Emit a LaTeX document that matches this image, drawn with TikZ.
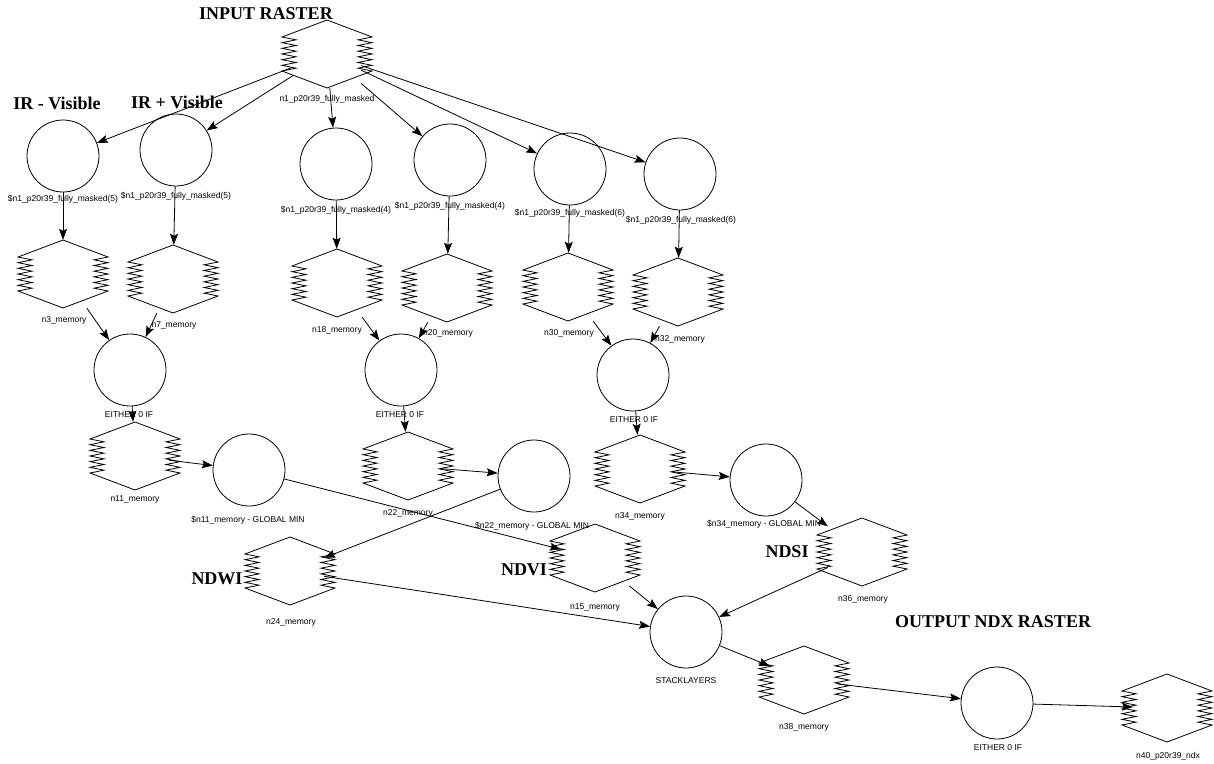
\documentclass[tikz,border=0pt]{standalone}
\usepackage{fontspec}
\setmainfont{Liberation Serif}
\newfontfamily\lblfont{Liberation Sans}
\usetikzlibrary{arrows.meta,calc}

\tikzset{
  rasterbox/.style={draw=none, rectangle, minimum width=68pt, minimum height=68pt, inner sep=0pt},
  opcircle/.style={draw, circle, minimum size=72pt, inner sep=0pt, line width=0.8pt},
  lbl/.style={font=\lblfont\fontsize{8.5}{10}\selectfont, inner sep=0pt},
  ttl/.style={font=\bfseries\fontsize{18}{20}\selectfont, inner sep=0pt},
  conn/.style={-{Stealth[length=11pt,width=8pt,inset=2pt]}, line width=0.8pt},
  rline/.style={line width=0.8pt, line join=miter},
}

\newcommand\rasternode[2]{%
  \node[rasterbox] (#1) at (#2) {};
  \draw[rline, shift={(#2)}] (0,-34) -- (-45,-17)
     \foreach \k in {0,...,5} { -- (-31,{-17+(\k+0.5)*34/6}) -- (-45,{-17+(\k+1)*34/6}) }
     -- (0,34) -- (45,17)
     \foreach \k in {0,...,5} { -- (31,{17-(\k+0.5)*34/6}) -- (45,{17-(\k+1)*34/6}) }
     -- cycle;
}

\begin{document}
\begin{tikzpicture}[x=1pt,y=-1pt]
\fill[white] (0,0) rectangle (1214,763);
\useasboundingbox (0,0) rectangle (1214,763);

% rasters
\rasternode{rin}{327,54}
\rasternode{n3}{63,274}
\rasternode{n7}{173,279}
\rasternode{n18}{337,283}
\rasternode{n20}{447,288}
\rasternode{n30}{568,287}
\rasternode{n32}{678,292}
\rasternode{n11}{135,456}
\rasternode{n22}{408,466}
\rasternode{n34}{640,469}
\rasternode{n24}{290,571}
\rasternode{n15}{595,558}
\rasternode{n36}{862,552}
\rasternode{n38}{804,680}
\rasternode{n40}{1167,708}

% operation circles
\node[opcircle] (c1) at (63,156) {};
\node[opcircle] (c2) at (176,150) {};
\node[opcircle] (c3) at (336,164) {};
\node[opcircle] (c4) at (450,160) {};
\node[opcircle] (c5) at (570,169) {};
\node[opcircle] (c6) at (680,174) {};
\node[opcircle] (e1) at (130,370) {};
\node[opcircle] (e2) at (401,370) {};
\node[opcircle] (e3) at (633,375) {};
\node[opcircle] (g1) at (249,470) {};
\node[opcircle] (g2) at (534,476) {};
\node[opcircle] (g3) at (766,480) {};
\node[opcircle] (stack) at (686,632) {};
\node[opcircle] (e4) at (997,703) {};

% small labels
\node[lbl] (lrin) at (327,99) {n1\_p20r39\_fully\_masked};
\node[lbl] (lc1) at (63,199) {\$n1\_p20r39\_fully\_masked(5)};
\node[lbl] (lc2) at (176,196) {\$n1\_p20r39\_fully\_masked(5)};
\node[lbl] (lc3) at (336,210) {\$n1\_p20r39\_fully\_masked(4)};
\node[lbl] (lc4) at (450,206) {\$n1\_p20r39\_fully\_masked(4)};
\node[lbl] (lc5) at (570,213) {\$n1\_p20r39\_fully\_masked(6)};
\node[lbl] (lc6) at (681,220) {\$n1\_p20r39\_fully\_masked(6)};
\node[lbl] (ln3) at (64,320) {n3\_memory};
\node[lbl] (ln7) at (174,325) {n7\_memory};
\node[lbl] (ln18) at (337,330) {n18\_memory};
\node[lbl] (ln20) at (448,333) {n20\_memory};
\node[lbl] (ln30) at (569,333) {n30\_memory};
\node[lbl] (ln32) at (680,339) {n32\_memory};
\node[lbl] (le1) at (129,415) {EITHER 0 IF};
\node[lbl] (le2) at (400,415) {EITHER 0 IF};
\node[lbl] (le3) at (634,420) {EITHER 0 IF};
\node[lbl] (ln11) at (135,499) {n11\_memory};
\node[lbl] (ln22) at (408,513) {n22\_memory};
\node[lbl] (ln34) at (640,516) {n34\_memory};
\node[lbl] (lg1) at (248,520) {\$n11\_memory - GLOBAL MIN};
\node[lbl] (lg2) at (532,526) {\$n22\_memory - GLOBAL MIN};
\node[lbl] (lg3) at (764,524) {\$n34\_memory - GLOBAL MIN};
\node[lbl] (ln24) at (291,622) {n24\_memory};
\node[lbl] (ln15) at (595,607) {n15\_memory};
\node[lbl] (ln36) at (863,599) {n36\_memory};
\node[lbl] (lstack) at (686,681) {STACKLAYERS};
\node[lbl] (ln38) at (804,727) {n38\_memory};
\node[lbl] (le4) at (998,748) {EITHER 0 IF};
\node[lbl] (ln40) at (1168,756) {n40\_p20r39\_ndx};

% titles
\node[ttl] (tin) at (266,14) {INPUT RASTER};
\node[ttl] (tirm) at (57,103) {IR - Visible};
\node[ttl] (tirp) at (177,102) {IR + Visible};
\node[ttl] (tndwi) at (217,579) {NDWI};
\node[ttl] (tndvi) at (524,570) {NDVI};
\node[ttl] (tndsi) at (787,552) {NDSI};
\node[ttl] (tout) at (993,622) {OUTPUT NDX RASTER};

% connectors
\foreach \t in {c1,c2,c3,c4,c5,c6} \draw[conn] (rin) -- (\t);
\draw[conn] (c1) -- (n3);
\draw[conn] (c2) -- (n7);
\draw[conn] (c3) -- (n18);
\draw[conn] (c4) -- (n20);
\draw[conn] (c5) -- (n30);
\draw[conn] (c6) -- (n32);
\draw[conn] (n3) -- (e1);
\draw[conn] (n7) -- (e1);
\draw[conn] (n18) -- (e2);
\draw[conn] (n20) -- (e2);
\draw[conn] (n30) -- (e3);
\draw[conn] (n32) -- (e3);
\draw[conn] (e1) -- (n11);
\draw[conn] (e2) -- (n22);
\draw[conn] (e3) -- (n34);
\draw[conn] (n11) -- (g1);
\draw[conn] (n22) -- (g2);
\draw[conn] (n34) -- (g3);
\draw[conn] (g1) -- (n15);
\draw[conn] (g2) -- (n24);
\draw[conn] (g3) -- (n36);
\draw[conn] (n24) -- (stack);
\draw[conn] (n15) -- (stack);
\draw[conn] (n36) -- (stack);
\draw[conn] (stack) -- (n38);
\draw[conn] (n38) -- (e4);
\draw[conn] (e4) -- (n40);
\end{tikzpicture}
\end{document}
